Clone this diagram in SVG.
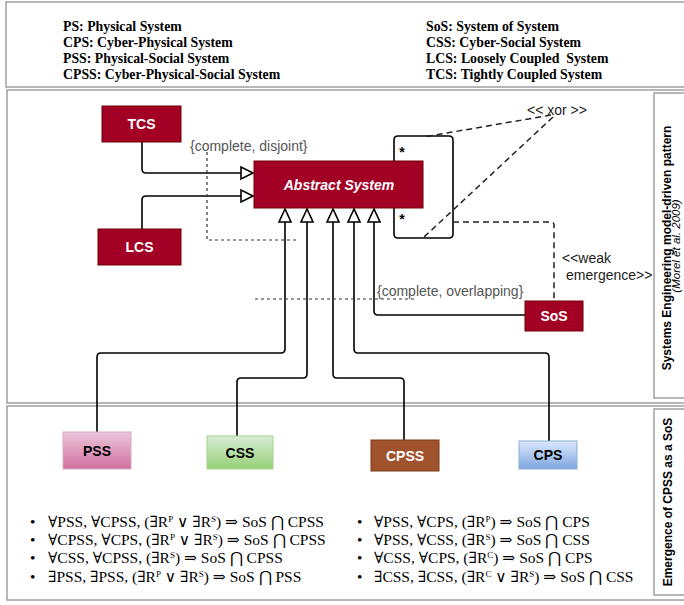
<svg xmlns="http://www.w3.org/2000/svg" width="684" height="605" viewBox="0 0 684 605">
<style>
.panel{fill:#fff;stroke:#a0a0a0;stroke-width:1.5}
.legend{font-family:"Liberation Serif","Times New Roman",serif;font-weight:bold;font-size:13.8px;fill:#000}
.red rect{fill:#a20025;stroke:#6f0000;stroke-width:1}
.lbl{font-family:"Liberation Sans",Arial,sans-serif;font-weight:bold;font-size:14px;text-anchor:middle}
.wt{fill:#fff}
.bk{fill:#000}
.conn{fill:none;stroke:#000;stroke-width:1.6}
.dash{fill:none;stroke:#333;stroke-width:1.2;stroke-dasharray:3 3}
.dash2{fill:none;stroke:#222;stroke-width:1.5;stroke-dasharray:6 4}
.tri{fill:#fff;stroke:#000;stroke-width:1.6}
.note{font-family:"Liberation Sans",Arial,sans-serif;font-size:14px;fill:#555}
.note2{font-family:"Liberation Sans",Arial,sans-serif;font-size:14px;fill:#222}
.side{font-family:"Liberation Sans",Arial,sans-serif;font-weight:bold;font-size:12px;fill:#000;text-anchor:middle}
.sidei{font-family:"Liberation Sans",Arial,sans-serif;font-style:italic;font-size:11.5px;fill:#000;text-anchor:middle}
.f{font-family:"Liberation Serif","Times New Roman","DejaVu Serif",serif;font-size:15.5px;fill:#000}
.sup{font-size:9px}
</style>
<defs>
<linearGradient id="gPSS" x1="0" y1="0" x2="0" y2="1"><stop offset="0" stop-color="#ebc6da"/><stop offset="1" stop-color="#d26f9f"/></linearGradient>
<linearGradient id="gCSS" x1="0" y1="0" x2="0" y2="1"><stop offset="0" stop-color="#d9ecd6"/><stop offset="1" stop-color="#97d077"/></linearGradient>
<linearGradient id="gCPS" x1="0" y1="0" x2="0" y2="1"><stop offset="0" stop-color="#dce9fc"/><stop offset="1" stop-color="#7ea6e0"/></linearGradient>
</defs>

<g id="frames">
<rect class="panel" x="6" y="2" width="690" height="85"/>
<rect class="panel" x="7" y="90" width="690" height="313"/>
<rect class="panel" x="7" y="406" width="690" height="194"/>
<rect class="panel" x="654" y="93" width="40" height="305"/>
<rect class="panel" x="654" y="409" width="40" height="186"/>
</g>

<g id="legend">
<text class="legend" x="63" y="31">PS: Physical System</text>
<text class="legend" x="63" y="47">CPS: Cyber-Physical System</text>
<text class="legend" x="63" y="63">PSS: Physical-Social System</text>
<text class="legend" x="63" y="79">CPSS: Cyber-Physical-Social System</text>
<text class="legend" x="426" y="31">SoS: System of System</text>
<text class="legend" x="426" y="47">CSS: Cyber-Social System</text>
<text class="legend" x="426" y="63" xml:space="preserve">LCS: Loosely Coupled  System</text>
<text class="legend" x="426" y="79">TCS: Tightly Coupled System</text>
</g>

<g id="side-labels">
<text class="side" transform="translate(671,248) rotate(-90)">Systems Engineering model-driven pattern</text>
<text class="sidei" transform="translate(680,246) rotate(-90)">(Morel et al. 2009)</text>
<text class="side" transform="translate(672,502) rotate(-90)">Emergence of CPSS as a SoS</text>
</g>

<g id="connectors">
<path class="conn" d="M142,142 V169 Q142,173 146,173 H241"/>
<path class="conn" d="M142,229 V200 Q142,196 146,196 H241"/>
<polygon class="tri" points="253,173 241,167 241,179"/>
<polygon class="tri" points="253,196 241,190 241,202"/>
<path class="conn" d="M285,222 V349 Q285,353 281,353 H101 Q97,353 97,357 V432"/>
<path class="conn" d="M307,222 V374 Q307,378 303,378 H241 Q237,378 237,382 V436"/>
<path class="conn" d="M333,222 V374 Q333,378 337,378 H400 Q404,378 404,382 V440"/>
<path class="conn" d="M354,222 V349 Q354,353 358,353 H545 Q549,353 549,357 V441"/>
<path class="conn" d="M374,222 V311 Q374,315 378,315 H525"/>
<polygon class="tri" points="285,209 279,222 291,222"/>
<polygon class="tri" points="307,209 301,222 313,222"/>
<polygon class="tri" points="333,209 327,222 339,222"/>
<polygon class="tri" points="354,209 348,222 360,222"/>
<polygon class="tri" points="374,209 368,222 380,222"/>
<path class="conn" d="M394,161 V140 Q394,136 398,136 H449 Q453,136 453,140 V234 Q453,238 449,238 H398 Q394,238 394,234 V208"/>
<path class="dash" d="M207,152 V240 H298"/>
<path class="dash" d="M255,299 H417"/>
<path class="dash2" d="M551,115 L424,137"/>
<path class="dash2" d="M553,117 L423,238"/>
<path class="dash2" d="M453,222 H551 Q554,222 554,225 V301"/>
</g>

<g id="connector-labels">
<text class="note" x="190" y="151">{complete, disjoint}</text>
<text class="note" x="377" y="296">{complete, overlapping}</text>
<text class="note2" x="527" y="115">&lt;&lt; xor &gt;&gt;</text>
<text class="note2" x="562" y="263">&lt;&lt;weak</text>
<text class="note2" x="566" y="280">emergence&gt;&gt;</text>
<text class="lbl bk" x="402" y="157">*</text>
<text class="lbl bk" x="402" y="224">*</text>
</g>

<g id="TCS" class="red"><rect x="102" y="106" width="79" height="36"/><text class="lbl wt" x="141.5" y="129">TCS</text></g>
<g id="LCS" class="red"><rect x="98" y="229" width="83" height="36"/><text class="lbl wt" x="139.5" y="252">LCS</text></g>
<g id="AbstractSystem" class="red"><rect x="254" y="161" width="169" height="47"/><text class="lbl wt" x="339" y="190" font-style="italic" font-size="14.6">Abstract System</text></g>
<g id="SoS" class="red"><rect x="525" y="301" width="58" height="30"/><text class="lbl wt" x="554" y="321">SoS</text></g>

<g id="PSS"><rect x="63" y="432" width="68" height="37" fill="url(#gPSS)" stroke="#d9a9c3"/><text class="lbl bk" x="97" y="456">PSS</text></g>
<g id="CSS"><rect x="207" y="436" width="66" height="33" fill="url(#gCSS)" stroke="#a8d28e"/><text class="lbl bk" x="240" y="458">CSS</text></g>
<g id="CPSS"><rect x="371" y="440" width="68" height="31" fill="#a0522d" stroke="#7a3a1c"/><text class="lbl wt" x="405" y="461">CPSS</text></g>
<g id="CPS"><rect x="519" y="441" width="58" height="28" fill="url(#gCPS)" stroke="#8eaed8"/><text class="lbl bk" x="548" y="460">CPS</text></g>

<g id="formulas">
<text class="f" x="30" y="527">•</text>
<text class="f" x="48" y="527">∀PSS, ∀CPSS, (∃R<tspan class="sup" dy="-5">P</tspan><tspan dy="5"> ∨ ∃R</tspan><tspan class="sup" dy="-5">S</tspan><tspan dy="5">) ⇒ SoS ⋂ CPSS</tspan></text>
<text class="f" x="30" y="545">•</text>
<text class="f" x="48" y="545">∀CPSS, ∀CPS, (∃R<tspan class="sup" dy="-5">P</tspan><tspan dy="5"> ∨ ∃R</tspan><tspan class="sup" dy="-5">S</tspan><tspan dy="5">) ⇒ SoS ⋂ CPSS</tspan></text>
<text class="f" x="30" y="563">•</text>
<text class="f" x="48" y="563">∀CSS, ∀CPSS, (∃R<tspan class="sup" dy="-5">S</tspan><tspan dy="5">) ⇒ SoS ⋂ CPSS</tspan></text>
<text class="f" x="30" y="582">•</text>
<text class="f" x="48" y="582">∃PSS, ∃PSS, (∃R<tspan class="sup" dy="-5">P</tspan><tspan dy="5"> ∨ ∃R</tspan><tspan class="sup" dy="-5">S</tspan><tspan dy="5">) ⇒ SoS ⋂ PSS</tspan></text>
<text class="f" x="357" y="527">•</text>
<text class="f" x="374" y="527">∀PSS, ∀CPS, (∃R<tspan class="sup" dy="-5">P</tspan><tspan dy="5">) ⇒ SoS ⋂ CPS</tspan></text>
<text class="f" x="357" y="545">•</text>
<text class="f" x="374" y="545">∀PSS, ∀CSS, (∃R<tspan class="sup" dy="-5">S</tspan><tspan dy="5">) ⇒ SoS ⋂ CSS</tspan></text>
<text class="f" x="357" y="563">•</text>
<text class="f" x="374" y="563">∀CSS, ∀CPS, (∃R<tspan class="sup" dy="-5">C</tspan><tspan dy="5">) ⇒ SoS ⋂ CPS</tspan></text>
<text class="f" x="357" y="582">•</text>
<text class="f" x="374" y="582">∃CSS, ∃CSS, (∃R<tspan class="sup" dy="-5">C</tspan><tspan dy="5"> ∨ ∃R</tspan><tspan class="sup" dy="-5">S</tspan><tspan dy="5">) ⇒ SoS ⋂ CSS</tspan></text>
</g>
</svg>
